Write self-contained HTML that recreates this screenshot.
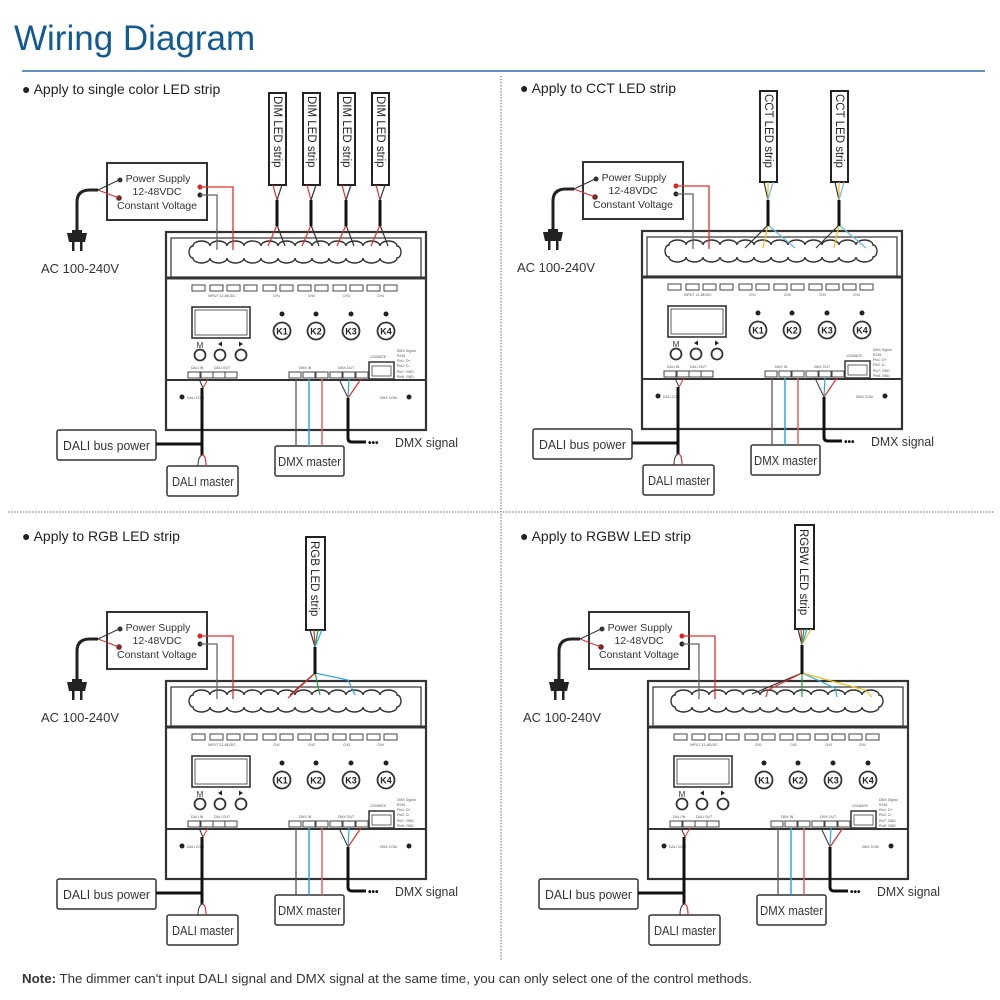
<!DOCTYPE html>
<html><head><meta charset="utf-8"><style>
html,body{margin:0;padding:0;background:#fff;}
svg{display:block;font-family:"Liberation Sans",sans-serif;}
</style></head><body>
<svg width="1000" height="1000" viewBox="0 0 1000 1000" xmlns="http://www.w3.org/2000/svg">
<text x="14" y="50" font-size="35" fill="#125a92">Wiring Diagram</text>
<line x1="22" y1="71" x2="985" y2="71" stroke="#2f6ea8" stroke-width="1.5"/>
<line x1="501" y1="76" x2="501" y2="960" stroke="#666" stroke-width="1" stroke-dasharray="1.5,1.5"/>
<line x1="8" y1="512" x2="995" y2="512" stroke="#666" stroke-width="1" stroke-dasharray="1.5,1.5"/>
<text x="22" y="983" font-size="13" fill="#333" textLength="730" lengthAdjust="spacingAndGlyphs"><tspan font-weight="bold">Note:</tspan> The dimmer can't input DALI signal and DMX signal at the same time, you can only select one of the control methods.</text>

<text x="22" y="94" font-size="14" fill="#222">● Apply to single color LED strip</text>
<text x="520" y="93" font-size="14" fill="#222">● Apply to CCT LED strip</text>
<text x="22" y="541" font-size="14" fill="#222">● Apply to RGB LED strip</text>
<text x="520" y="541" font-size="14" fill="#222">● Apply to RGBW LED strip</text>

<g id="q1">
<g fill="none" stroke="#333">
<rect x="107" y="163" width="100" height="57" stroke-width="2"/>
<rect x="166" y="232" width="260" height="198" stroke-width="2.2"/>
<rect x="171" y="238" width="250" height="39" stroke-width="1.2"/>
<line x1="166" y1="278" x2="426" y2="278" stroke-width="3"/>
<line x1="166" y1="380" x2="426" y2="380" stroke-width="2"/>
<rect x="192" y="307" width="58" height="31" stroke-width="1.6"/>
<rect x="195" y="310" width="52" height="25" stroke-width="0.8"/>
<circle cx="200" cy="355" r="5.5" stroke-width="1.8"/><circle cx="220" cy="355" r="5.5" stroke-width="1.8"/><circle cx="241" cy="355" r="5.5" stroke-width="1.8"/>
<circle cx="282" cy="331" r="8.5" stroke-width="1.8"/><circle cx="316" cy="331" r="8.5" stroke-width="1.8"/><circle cx="351" cy="331" r="8.5" stroke-width="1.8"/><circle cx="386" cy="331" r="8.5" stroke-width="1.8"/>
<rect x="369" y="362" width="25" height="17" stroke-width="1.5"/>
<rect x="57" y="430" width="99" height="30" rx="2" stroke-width="1.5"/>
<rect x="167" y="466" width="71" height="30" rx="2" stroke-width="1.5"/>
<rect x="275" y="446" width="69" height="30" rx="2" stroke-width="1.5"/>
<path d="M193 246 a8.5 5 0 0 1 17 0 a8.5 5 0 0 1 17 0 a8.5 5 0 0 1 17 0 a8.5 5 0 0 1 17 0 a8.5 5 0 0 1 17 0 a8.5 5 0 0 1 17 0 a8.5 5 0 0 1 17 0 a8.5 5 0 0 1 17 0 a8.5 5 0 0 1 17 0 a8.5 5 0 0 1 17 0 a8.5 5 0 0 1 17 0 a8.5 5 0 0 1 17 0 a4 6 0 0 1 0 12 a8.5 5 0 0 1 -17 0 a8.5 5 0 0 1 -17 0 a8.5 5 0 0 1 -17 0 a8.5 5 0 0 1 -17 0 a8.5 5 0 0 1 -17 0 a8.5 5 0 0 1 -17 0 a8.5 5 0 0 1 -17 0 a8.5 5 0 0 1 -17 0 a8.5 5 0 0 1 -17 0 a8.5 5 0 0 1 -17 0 a8.5 5 0 0 1 -17 0 a8.5 5 0 0 1 -17 0 a4 6 0 0 1 0 -12z" stroke-width="1.4"/>
</g>
<g fill="#fff" stroke="#444" stroke-width="1">
<rect x="192" y="285" width="13" height="6"/><rect x="210" y="285" width="13" height="6"/><rect x="227" y="285" width="13" height="6"/><rect x="244" y="285" width="13" height="6"/>
<rect x="263" y="285" width="13" height="6"/><rect x="280" y="285" width="13" height="6"/><rect x="298" y="285" width="13" height="6"/><rect x="315" y="285" width="13" height="6"/>
<rect x="333" y="285" width="13" height="6"/><rect x="350" y="285" width="13" height="6"/><rect x="367" y="285" width="13" height="6"/><rect x="384" y="285" width="13" height="6"/>
<rect x="188" y="372" width="12" height="6"/><rect x="201" y="372" width="12" height="6"/><rect x="213" y="372" width="12" height="6"/><rect x="225" y="372" width="12" height="6"/>
<rect x="289" y="372" width="12" height="6"/><rect x="303" y="372" width="12" height="6"/><rect x="316" y="372" width="12" height="6"/>
<rect x="330" y="372" width="12" height="6"/><rect x="343" y="372" width="12" height="6"/><rect x="356" y="372" width="12" height="6"/>
</g>
<g font-size="3.5" fill="#555">
<text x="208" y="297">INPUT 12-48VDC</text><text x="273" y="297">CH1</text><text x="308" y="297">CH2</text><text x="343" y="297">CH3</text><text x="377" y="297">CH4</text>
<text x="191" y="369">DALI IN</text><text x="214" y="369">DALI OUT</text><text x="299" y="369">DMX IN</text><text x="338" y="369">DMX OUT</text>
<text x="370" y="358">12345678</text>
<text x="397" y="352">DMX Signal</text><text x="397" y="357">RJ45</text><text x="397" y="362">Pin1: D+</text><text x="397" y="367">Pin2: D-</text><text x="397" y="373">Pin7: GND</text><text x="397" y="378">Pin8: GND</text>
<text x="187" y="399">DALI COM</text><text x="380" y="399">DMX COM</text>
</g>
<g fill="#222">
<circle cx="182" cy="397" r="2.5"/><circle cx="409" cy="397" r="2.5"/>
<circle cx="282" cy="314" r="2.5"/><circle cx="316" cy="314" r="2.5"/><circle cx="351" cy="314" r="2.5"/><circle cx="386" cy="314" r="2.5"/>
<path d="M218 344l4-2.5v5zM239 341.5l4 2.5-4 2.5z"/>
</g>
<g font-size="9" font-weight="bold" fill="#222" text-anchor="middle">
<text x="282" y="334.5">K1</text><text x="316" y="334.5">K2</text><text x="351" y="334.5">K3</text><text x="386" y="334.5">K4</text>
</g>
<text x="200" y="348" font-size="8" fill="#333" text-anchor="middle">M</text>
<rect x="372" y="366" width="19" height="10" fill="none" stroke="#444" stroke-width="0.8"/>
<g font-size="10.5" fill="#333" text-anchor="middle">
<text x="158" y="182">Power Supply</text><text x="157" y="195">12-48VDC</text><text x="157" y="209">Constant Voltage</text>
</g>
<circle cx="120" cy="180" r="2.5" fill="#333"/><circle cx="119" cy="198" r="2.8" fill="#6a2a2a"/>
<circle cx="200" cy="187" r="2.5" fill="#e02020"/><circle cx="200" cy="195" r="2.5" fill="#222"/>
<polyline points="200,187 233,187 233,250" fill="none" stroke="#e03030" stroke-width="1.3"/>
<polyline points="200,195 217,195 217,250" fill="none" stroke="#666" stroke-width="1.3"/>
<path d="M77 230 V202 Q77 190 90 190 H98" fill="none" stroke="#222" stroke-width="3"/>
<path d="M98 190 L119 198" fill="none" stroke="#d03030" stroke-width="1"/>
<path d="M98 190 L119 180" fill="none" stroke="#333" stroke-width="1"/>
<path d="M72 230 h10 v3 h5 l-2 9 h-16 l-2-9 h5z" fill="#222"/>
<rect x="72" y="242" width="2.5" height="9" fill="#222"/><rect x="80" y="242" width="2.5" height="9" fill="#222"/>
<text x="41" y="273" font-size="13" fill="#333">AC 100-240V</text>
<path d="M199 379 L203 388" fill="none" stroke="#333" stroke-width="1"/>
<path d="M203 388 L208 379" fill="none" stroke="#e03030" stroke-width="1"/>
<line x1="202" y1="388" x2="202" y2="455" stroke="#111" stroke-width="3"/>
<line x1="156" y1="444" x2="202" y2="444" stroke="#111" stroke-width="3"/>
<path d="M202 455 Q206 455 206 466" fill="none" stroke="#e03030" stroke-width="1.2"/>
<path d="M198 466 Q198 457 202 455" fill="none" stroke="#333" stroke-width="1"/>
<text x="63" y="450" font-size="12.5" fill="#333" textLength="87" lengthAdjust="spacingAndGlyphs">DALI bus power</text>
<text x="172" y="486" font-size="12.5" fill="#333" textLength="62" lengthAdjust="spacingAndGlyphs">DALI master</text>
<line x1="296" y1="379" x2="296" y2="446" stroke="#555" stroke-width="1.3"/>
<line x1="309" y1="379" x2="309" y2="446" stroke="#2aa8e0" stroke-width="1.5"/>
<line x1="322" y1="379" x2="322" y2="446" stroke="#e06060" stroke-width="1.5"/>
<text x="278" y="466" font-size="12.5" fill="#333" textLength="63" lengthAdjust="spacingAndGlyphs">DMX master</text>
<path d="M339 379 L348 398" stroke="#333" stroke-width="1" fill="none"/>
<path d="M349 379 L348 398" stroke="#2aa8e0" stroke-width="1.2" fill="none"/>
<path d="M361 379 L348 398" stroke="#e03030" stroke-width="1.2" fill="none"/>
<path d="M348 398 V438 Q348 442 352 442 H366" fill="none" stroke="#111" stroke-width="3"/>
<text x="368" y="446" font-size="10" font-weight="bold" fill="#111">•••</text>
<text x="395" y="447" font-size="13" fill="#333" textLength="63" lengthAdjust="spacingAndGlyphs">DMX signal</text>
</g>
<use href="#q1" transform="translate(476,-1)"/>
<use href="#q1" transform="translate(0,449)"/>
<use href="#q1" transform="translate(482,449)"/>

<g>
<g fill="#fff" stroke="#222" stroke-width="2">
<rect x="269" y="93" width="17" height="92"/><rect x="303" y="93" width="17" height="92"/><rect x="338" y="93" width="17" height="92"/><rect x="372" y="93" width="17" height="92"/>
</g>
<g font-size="11.5" fill="#222">
<text transform="translate(274,96) rotate(90)">DIM LED strip</text>
<text transform="translate(308,96) rotate(90)">DIM LED strip</text>
<text transform="translate(343,96) rotate(90)">DIM LED strip</text>
<text transform="translate(377,96) rotate(90)">DIM LED strip</text>
</g>
<g fill="none" stroke-width="1.2">
<path d="M273 185 L277 200 M307 185 L311 200 M342 185 L346 200 M376 185 L380 200" stroke="#e03030"/>
<path d="M282 185 L277 200 M316 185 L311 200 M351 185 L346 200 M385 185 L380 200" stroke="#333"/>
<path d="M277 225 L268 246 M311 225 L302 246 M346 225 L337 246 M380 225 L371 246" stroke="#e03030"/>
<path d="M277 225 L285 246 M311 225 L319 246 M346 225 L354 246 M380 225 L388 246" stroke="#333"/>
</g>
<g stroke="#111" stroke-width="3"><line x1="277" y1="200" x2="277" y2="226"/><line x1="311" y1="200" x2="311" y2="226"/><line x1="346" y1="200" x2="346" y2="226"/><line x1="380" y1="200" x2="380" y2="226"/></g>
</g>

<g>
<g fill="#fff" stroke="#222" stroke-width="2"><rect x="760" y="91" width="17" height="91"/><rect x="831" y="91" width="17" height="91"/></g>
<g font-size="11.5" fill="#222"><text transform="translate(765,94) rotate(90)">CCT LED strip</text><text transform="translate(836,94) rotate(90)">CCT LED strip</text></g>
<g fill="none" stroke-width="1.2">
<path d="M764 182 L768 200 M835 182 L839 200" stroke="#333"/>
<path d="M768 182 L768 200 M839 182 L839 200" stroke="#e8c020"/>
<path d="M773 182 L768 200 M844 182 L839 200" stroke="#6ab8e0"/>
<path d="M768 225 L745 248 M839 225 L816 248" stroke="#333"/>
<path d="M768 225 L763 248 M839 225 L834 248" stroke="#e8c020"/>
<path d="M768 225 L795 248 M839 225 L866 248" stroke="#6ab8e0"/>
</g>
<g stroke="#111" stroke-width="3"><line x1="768" y1="200" x2="768" y2="226"/><line x1="839" y1="200" x2="839" y2="226"/></g>
</g>

<g>
<rect x="306" y="537" width="19" height="93" fill="#fff" stroke="#222" stroke-width="2"/>
<text transform="translate(311,541) rotate(90)" font-size="11.5" fill="#222">RGB LED strip</text>
<g fill="none" stroke-width="1.2">
<path d="M310 630 L315 647" stroke="#333"/><path d="M314 630 L315 647" stroke="#e03030"/><path d="M318 630 L315 647" stroke="#20a040"/><path d="M322 630 L315 647" stroke="#2aa8e0"/>
<path d="M315 673 L290 695" stroke="#333"/><path d="M315 673 L288 698" stroke="#e03030"/><path d="M315 673 L320 695" stroke="#20a040"/><path d="M315 673 L348 680 L355 695" stroke="#2aa8e0"/>
</g>
<line x1="315" y1="647" x2="315" y2="674" stroke="#111" stroke-width="3"/>
</g>

<g>
<rect x="795" y="525" width="19" height="104" fill="#fff" stroke="#222" stroke-width="2"/>
<text transform="translate(800,529) rotate(90)" font-size="11.5" fill="#222">RGBW LED strip</text>
<g fill="none" stroke-width="1.2">
<path d="M798 629 L802 645" stroke="#333"/><path d="M801 629 L802 645" stroke="#e03030"/><path d="M804 629 L802 645" stroke="#20a040"/><path d="M807 629 L802 645" stroke="#2aa8e0"/><path d="M811 629 L802 645" stroke="#e8c020"/>
<path d="M802 673 L752 694" stroke="#333"/><path d="M802 673 L768 690 L766 697" stroke="#e03030"/><path d="M802 673 L802 697" stroke="#20a040"/><path d="M802 673 L835 688 L837 697" stroke="#2aa8e0"/><path d="M802 673 L865 690 L872 697" stroke="#e8c020"/>
</g>
<line x1="802" y1="645" x2="802" y2="674" stroke="#111" stroke-width="3"/>
</g>
</svg>
</body></html>
